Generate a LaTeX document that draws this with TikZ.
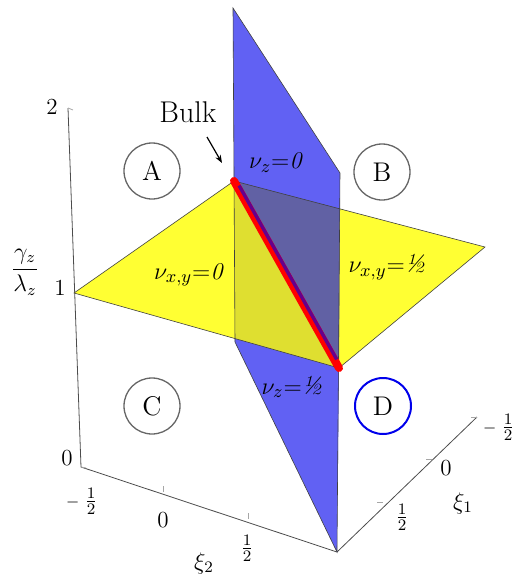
\documentclass[tikz,border=0pt]{standalone}
\usetikzlibrary{arrows.meta,calc}
\definecolor{planeblue}{RGB}{0,0,235}
\definecolor{planeyellow}{RGB}{255,255,0}
\definecolor{tubepurple}{RGB}{102,0,140}
\definecolor{tubered}{RGB}{255,0,0}
\begin{document}
\begin{tikzpicture}[x=0.5pt,y=-0.5pt,
  axisline/.style={draw=black!70,line width=0.4pt},
  tickmark/.style={draw=black!35,line width=0.4pt},
  edgeline/.style={draw=black!75,line width=0.3pt},
  bluefill/.style={fill=planeblue,fill opacity=0.62},
  yellowfill/.style={fill=planeyellow,fill opacity=0.8},
  regionmark/.style={circle,draw=black!60,line width=0.65pt,minimum size=28pt,inner sep=0pt,font=\fontsize{13.5}{16}\selectfont},
  nulabel/.style={font=\fontsize{13}{15}\selectfont,inner sep=0pt},
  ticklabel/.style={font=\fontsize{11.5}{13}\selectfont,inner sep=0pt},
  fraclabel/.style={font=\fontsize{11}{13}\selectfont,inner sep=0pt},
  axistitle/.style={font=\fontsize{12}{14}\selectfont,inner sep=0pt}]
\useasboundingbox (0,0) rectangle (515,575);
% box corners
\coordinate (vtop) at (68,108);
\coordinate (orig) at (81,467);
\coordinate (fc) at (337,552);
\coordinate (xoneend) at (477,417);
% plane corners
\coordinate (L) at (74,293);
\coordinate (Bk) at (234,181);
\coordinate (R) at (485,247);
\coordinate (F) at (339,368);
\coordinate (T1) at (233,8);
\coordinate (T2) at (340,173);
\coordinate (BR) at (337,552);
\coordinate (BL) at (235,342);
% axes
\draw[axisline] (vtop) -- (orig) -- (fc) -- (xoneend);
\draw[tickmark] (vtop) -- ++(5,2);
\draw[tickmark] (orig) -- ++(5,1);
\draw[tickmark] (163,492) -- ++(0,-6);
\draw[tickmark] (248,519) -- ++(0,-6);
\draw[tickmark] (383,502) -- ++(-6,0);
\draw[tickmark] (432,459) -- ++(-6,0);
\draw[tickmark] (477,417) -- ++(-6,0);
% planes
\fill[bluefill] (Bk) -- (F) -- (BR) -- (BL) -- cycle;
\fill[yellowfill] (L) -- (Bk) -- (R) -- (F) -- cycle;
\fill[bluefill] (T1) -- (T2) -- (F) -- (Bk) -- cycle;
\draw[edgeline] (T1) -- (T2) -- (BR) -- (BL) -- cycle;
\draw[edgeline] (L) -- (Bk) -- (R) -- (F) -- cycle;
% bulk line
\coordinate (pa) at ($(Bk)!0.03!(F)+(1.9,-1.1)$);
\coordinate (pb) at ($(Bk)!0.96!(F)+(1.9,-1.1)$);
\draw[tubered,line width=4pt,line cap=round] (Bk) -- (F);
\draw[tubepurple,line width=1.7pt] (pa) -- (pb);
% region markers
\node[regionmark] (ra) at (152,171) {A};
\node[regionmark] (rb) at (382,172) {B};
\node[regionmark] (rc) at (152,406) {C};
\node[regionmark,draw=planeblue,line width=1pt] (rd) at (383,406) {D};
% plane labels
\node[nulabel] (nuzzero) at (277,163) {$\nu_z{=}\mathit{0}$};
\node[nulabel] (nuxyzero) at (190,275) {$\nu_{x,y}{=}\mathit{0}$};
\node[nulabel] (nuxyhalf) at (387,267) {$\nu_{x,y}{=}$\textit{½}};
\node[nulabel] (nuzhalf) at (292,387) {$\nu_z{=}$\textit{½}};
% bulk label
\node[font=\fontsize{15}{18}\selectfont,inner sep=0pt] (bulk) at (188,112) {Bulk};
\coordinate (bulkfrom) at (207,137);
\coordinate (bulkto) at (222,163);
\draw[-{Stealth[length=4pt,width=3pt]},line width=0.6pt] (bulkfrom) -- (bulkto);
% vertical axis labels
\node[ticklabel] (vtwo) at (52,107) {2};
\node[ticklabel] (vone) at (60,288) {1};
\node[ticklabel] (vzero) at (67,458) {0};
\node[axistitle] (gamlam) at (25,272) {$\displaystyle\frac{\gamma_z}{\lambda_z}$};
% xi2 axis labels
\node[fraclabel] (xtwoa) at (82,501) {{\fontsize{8}{10}\selectfont$-$}\hspace{2.5pt}$\frac{1}{2}$};
\node[ticklabel] (xtwob) at (163,520) {0};
\node[fraclabel] (xtwoc) at (247,548) {$\frac{1}{2}$};
\node[axistitle] (xtwotitle) at (204,563) {$\xi_2$};
% xi1 axis labels
\node[fraclabel] (xonea) at (499,427) {{\fontsize{8}{10}\selectfont$-$}\hspace{2.5pt}$\frac{1}{2}$};
\node[ticklabel] (xoneb) at (446,468) {0};
\node[fraclabel] (xonec) at (402,517) {$\frac{1}{2}$};
\node[axistitle] (xonetitle) at (463,503) {$\xi_1$};
\end{tikzpicture}
\end{document}
